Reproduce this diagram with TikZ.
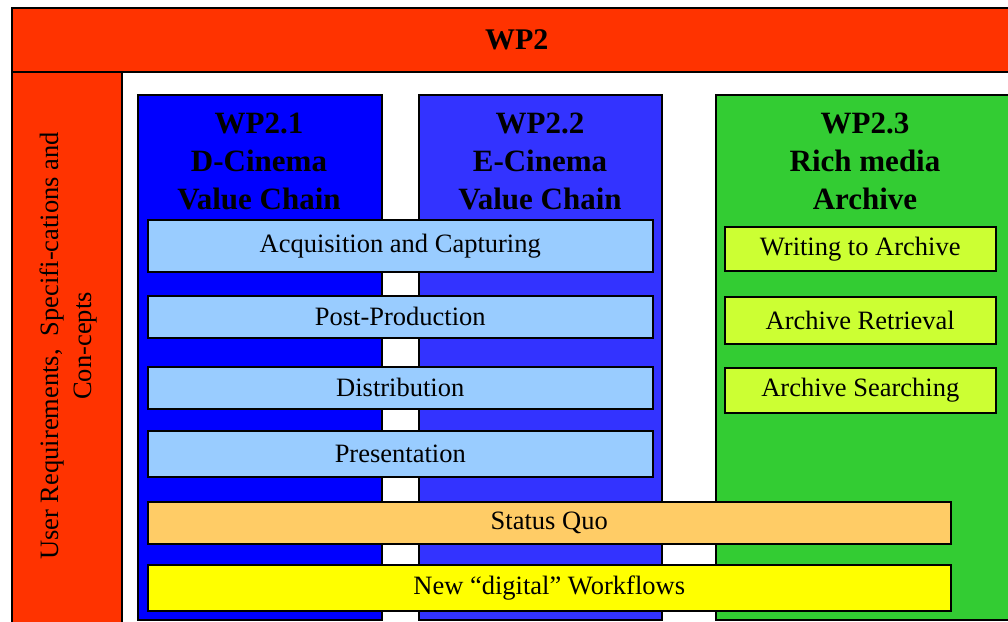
\documentclass[tikz,border=0pt]{standalone}
\usepackage{fontspec}
\setmainfont{Liberation Serif}
\usetikzlibrary{positioning}

\definecolor{wpred}{HTML}{FF3300}
\definecolor{dcblue}{HTML}{0000FF}
\definecolor{ecblue}{HTML}{3333FF}
\definecolor{argreen}{HTML}{33CC33}
\definecolor{stepblue}{HTML}{99CCFF}
\definecolor{argstep}{HTML}{CCFF33}
\definecolor{quoorange}{HTML}{FFCC66}
\definecolor{newyellow}{HTML}{FFFF00}

\tikzset{
    box/.style={draw=black,line width=1.5pt,inner sep=0pt,anchor=north west,
        font=\fontsize{26.5}{32}\selectfont},
    titletext/.style={font=\fontsize{31}{38}\selectfont\bfseries,align=center},
}

\begin{document}
\begin{tikzpicture}[x=1pt,y=-1pt]
        \useasboundingbox (0,0) rectangle (1008,621);

        % frame of WP2
        \node[box,fill=wpred,minimum width=1010pt,minimum height=64pt] (wp2) at (11,7)
            {\fontsize{30}{36}\selectfont\bfseries WP2};
        \node[box,fill=wpred,minimum width=110pt,minimum height=570pt] (req) at (11,71) {};
        \node[font=\fontsize{26.5}{33}\selectfont,align=center,rotate=90] (reqlabel) at (68,346)
            {User Requirements,\ \ Specifi-cations and\\Con-cepts};

        % sub work packages
        \node[box,fill=dcblue,minimum width=244pt,minimum height=525pt] (wp21) at (137,94) {};
        \node[box,fill=ecblue,minimum width=243pt,minimum height=525pt] (wp22) at (418,94) {};
        \node[box,fill=argreen,minimum width=320pt,minimum height=525pt] (wp23) at (715,94) {};
        \node[titletext] (t21) at (259,161) {WP2.1\\D-Cinema\\Value Chain};
        \node[titletext] (t22) at (540,161) {WP2.2\\E-Cinema\\Value Chain};
        \node[titletext] (t23) at (865,161) {WP2.3\\Rich media\\Archive};

        % value chain steps
        \node[box,fill=stepblue,minimum width=505pt,minimum height=52pt] (acq)  at (147,219) {Acquisition and Capturing};
        \node[box,fill=stepblue,minimum width=505pt,minimum height=42pt] (post) at (147,295) {Post-Production};
        \node[box,fill=stepblue,minimum width=505pt,minimum height=42pt] (dist) at (147,366) {Distribution};
        \node[box,fill=stepblue,minimum width=505pt,minimum height=46pt] (pres) at (147,430) {Presentation};

        % archive steps
        \node[box,fill=argstep,minimum width=271pt,minimum height=44pt] (write)  at (724,226) {Writing to Archive};
        \node[box,fill=argstep,minimum width=271pt,minimum height=47pt] (retr)   at (724,296) {Archive Retrieval};
        \node[box,fill=argstep,minimum width=271pt,minimum height=45pt] (search) at (724,367) {Archive Searching};

        % workflows
        \node[box,fill=quoorange,minimum width=803pt,minimum height=42pt] (quo)     at (147,501) {Status Quo};
        \node[box,fill=newyellow,minimum width=803pt,minimum height=46pt] (digital) at (147,564) {New “digital” Workflows};
    \end{tikzpicture}
\end{document}
